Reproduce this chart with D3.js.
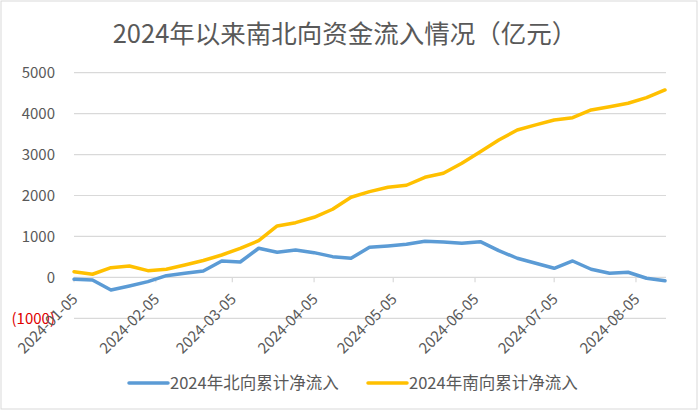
<!DOCTYPE html>
<html><head><meta charset="utf-8">
<script src="https://cdn.jsdelivr.net/npm/d3@7"></script>
<style>
html,body{margin:0;padding:0;background:#fff;}
text{font-family:"Noto Sans CJK SC","Noto Sans",sans-serif;}
</style>
</head><body>
<svg id="chart" width="700" height="411"></svg>
<script>
const title = "2024年以来南北向资金流入情况（亿元）";
const seriesNames = ["2024年北向累计净流入", "2024年南向累计净流入"];
const seriesColors = ["#5B9BD5", "#FFC000"];
const startDate = "2024-01-05";
const weeks = d3.range(33);
const northbound = [-46, -64, -308, -210, -105, 42, 100, 156, 400, 376, 711, 614, 669, 604, 506, 467, 735, 767, 809, 882, 865, 833, 872, 652, 467, 344, 222, 400, 198, 100, 125, -22, -81];
const southbound = [139, 76, 237, 279, 164, 198, 303, 413, 547, 706, 897, 1256, 1336, 1468, 1664, 1957, 2094, 2201, 2250, 2445, 2543, 2787, 3071, 3357, 3601, 3724, 3845, 3902, 4090, 4170, 4253, 4390, 4578];
const yTicks = [-1000, 0, 1000, 2000, 3000, 4000, 5000];
const xTickLabels = ["2024-01-05","2024-02-05","2024-03-05","2024-04-05","2024-05-05","2024-06-05","2024-07-05","2024-08-05"];

const parse = d3.timeParse("%Y-%m-%d");
const d0 = parse(startDate);
const dates = weeks.map(w => d3.timeDay.offset(d0, w * 7));
const svg = d3.select("#chart");

svg.append("rect").attr("x",1).attr("y",1).attr("width",696).attr("height",408)
  .attr("fill","#fff").attr("stroke","#d9d9d9").attr("stroke-width",1);

const x = d3.scaleTime().domain([dates[0], dates[dates.length-1]]).range([74, 665]);
const y = d3.scaleLinear().domain([-1000, 5000]).range([318.3, 72.7]);
const gridColor = "#d9d9d9", textColor = "#595959";

// gridlines
svg.append("g").selectAll("line").data(yTicks).join("line")
  .attr("x1",74).attr("x2",666).attr("y1",d=>y(d)).attr("y2",d=>y(d))
  .attr("stroke",gridColor).attr("stroke-width",1.2);

// y labels
svg.append("g").selectAll("text").data(yTicks).join("text")
  .attr("x",55).attr("y",d=>y(d)).attr("dy","0.35em").attr("text-anchor","end")
  .attr("font-size",15).attr("fill",d=>d<0?"#E00000":textColor)
  .text(d=>d<0?"("+Math.abs(d)+")":d);

// x ticks
const tickDates = xTickLabels.map(parse);
svg.append("g").selectAll("line").data(tickDates).join("line")
  .attr("x1",d=>x(d)).attr("x2",d=>x(d)).attr("y1",y(0)).attr("y2",y(0)+5)
  .attr("stroke",gridColor).attr("stroke-width",1.2);
svg.append("g").selectAll("text").data(tickDates).join("text")
  .attr("transform",d=>`translate(${x(d)+1},${y(0)+19}) rotate(-45)`)
  .attr("text-anchor","end").attr("dy","0.35em")
  .attr("font-size",15).attr("fill",textColor)
  .text(d=>d3.timeFormat("%Y-%m-%d")(d));

// lines
const line = d3.line().x((d,i)=>x(dates[i])).y(d=>y(d));
[northbound, southbound].forEach((s,i)=>{
  svg.append("path").datum(s).attr("d",line).attr("fill","none")
    .attr("stroke",seriesColors[i]).attr("stroke-width",3.5)
    .attr("stroke-linejoin","round").attr("stroke-linecap","round");
});

// title
svg.append("text").attr("x",345).attr("y",43).attr("text-anchor","middle")
  .attr("font-size",25.5).attr("fill",textColor).text(title);

// legend
const legendX = [129, 368];
seriesNames.forEach((n,i)=>{
  svg.append("line").attr("x1",legendX[i]).attr("x2",legendX[i]+39).attr("y1",383).attr("y2",383)
    .attr("stroke",seriesColors[i]).attr("stroke-width",3.5).attr("stroke-linecap","round");
  svg.append("text").attr("x",legendX[i]+41).attr("y",383).attr("dy","0.35em")
    .attr("font-size",16.5).attr("fill",textColor).text(n);
});
</script>
</body></html>
